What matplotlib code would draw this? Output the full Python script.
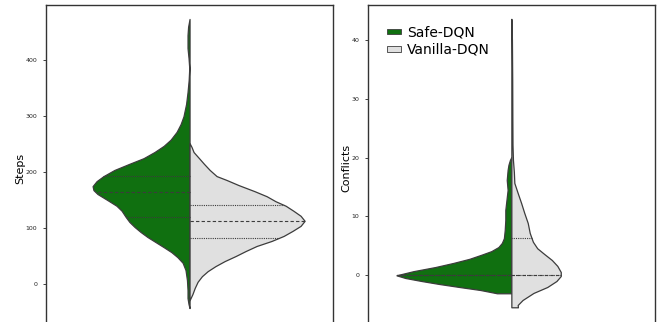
import matplotlib
matplotlib.use('Agg')
import matplotlib.pyplot as plt
from matplotlib.patches import Patch
import numpy as np

# colours (seaborn desaturated green + light grey)
safe_color = '#107010'
vanilla_color = '#e0e0e0'
edge_color = '#3c3c3c'

labels = ['Safe-DQN', 'Vanilla-DQN']

# violin profiles: value -> half width (category units)
# Steps panel
steps_safe_val = [474, 460, 445, 422, 404, 386, 365, 343, 322, 300, 286, 272, 258, 247, 236, 225,
                  215, 204, 193, 184, 175, 168, 161, 150, 140, 131, 120, 111, 102, 93, 84, 75,
                  66, 57, 48, 38, 25, 7, -11, -25, -36, -43]
steps_safe_w = [0.0, 0.005, 0.007, 0.007, 0.0035, 0.001, 0.003, 0.007, 0.012, 0.021, 0.031, 0.045,
                0.066, 0.090, 0.122, 0.160, 0.209, 0.261, 0.299, 0.323, 0.337, 0.334, 0.320, 0.285,
                0.254, 0.236, 0.222, 0.209, 0.191, 0.170, 0.146, 0.118, 0.090, 0.063, 0.042, 0.024,
                0.014, 0.009, 0.007, 0.007, 0.0035, 0.0]
steps_vanilla_val = [252, 245, 236, 225, 215, 204, 193, 186, 177, 166, 157, 148, 140, 131, 122, 113,
                     104, 95, 86, 77, 68, 59, 50, 41, 32, 23, 14, 4, -7, -18, -29]
steps_vanilla_w = [0.0, 0.007, 0.014, 0.033, 0.050, 0.070, 0.094, 0.129, 0.170, 0.226, 0.268, 0.299,
                   0.334, 0.361, 0.386, 0.400, 0.386, 0.358, 0.327, 0.285, 0.233, 0.195, 0.160,
                   0.122, 0.090, 0.063, 0.043, 0.028, 0.018, 0.010, 0.0]
steps_safe_quart = [120.4, 164.0, 192.6]
steps_vanilla_quart = [82.5, 113.2, 141.3]

# Conflicts panel
conf_safe_val = [20.1, 19.6, 18.8, 17.9, 16.2, 14.5, 12.8, 11.1, 9.4, 7.7, 6.3, 5.5, 4.8, 4.1, 3.5,
                 2.8, 2.1, 1.4, 0.7, 0.2, 0.0, -0.46, -0.97, -1.48, -1.99, -2.5, -3.0, -3.06]
conf_safe_w = [0.0, 0.005, 0.010, 0.013, 0.016, 0.013, 0.017, 0.021, 0.021, 0.023, 0.026, 0.033,
               0.045, 0.070, 0.104, 0.146, 0.202, 0.265, 0.341, 0.383, 0.400, 0.369, 0.313, 0.251,
               0.181, 0.108, 0.056, 0.050]
conf_vanilla_val = [43.6, 40, 33.2, 26.4, 22.2, 19.6, 17.6, 15.7, 14.0, 12.3, 10.6, 8.9, 7.2, 5.7,
                    4.6, 3.6, 2.6, 1.6, 0.56, -0.12, -0.97, -1.99, -3.0, -4.2, -5.05, -5.44]
conf_vanilla_w = [0.0, 0.002, 0.003, 0.0035, 0.004, 0.0056, 0.0087, 0.0104, 0.022, 0.034, 0.045,
                  0.057, 0.064, 0.075, 0.090, 0.115, 0.141, 0.160, 0.172, 0.172, 0.157, 0.125,
                  0.077, 0.039, 0.022, 0.023]
conf_safe_quart = [0.0, 0.0, 0.0]
conf_vanilla_quart = [0.0, 0.0, 6.3]

steps_ticks = [0, 100, 200, 300, 400]
conf_ticks = [0, 10, 20, 30, 40]


def half_violin(ax, vals, widths, quarts, color, side):
    vals = np.array(vals, dtype=float)
    widths = np.array(widths, dtype=float)
    ax.fill_betweenx(vals, side * widths, 0, facecolor=color, edgecolor=edge_color,
                     linewidth=0.9, zorder=2)
    # quartile lines, median dashed, the other two dotted
    order = np.argsort(vals)
    for i, q in enumerate(quarts):
        w = np.interp(q, vals[order], widths[order])
        dashes = (3, 2) if i == 1 else (1, 1)
        ax.plot([0, side * w], [q, q], color=edge_color, linewidth=0.8,
                dashes=dashes, zorder=3)


plt.rcParams['font.family'] = 'DejaVu Sans'
fig = plt.figure(figsize=(6.67, 3.22), dpi=100)

W, H = 667.0, 322.0
ax1 = fig.add_axes([45.7 / W, -10 / H, 287.7 / W, 327.3 / H])
ax2 = fig.add_axes([367.7 / W, -10 / H, 287.3 / W, 327.3 / H])

half_violin(ax1, steps_safe_val, steps_safe_w, steps_safe_quart, safe_color, -1)
half_violin(ax1, steps_vanilla_val, steps_vanilla_w, steps_vanilla_quart, vanilla_color, 1)
half_violin(ax2, conf_safe_val, conf_safe_w, conf_safe_quart, safe_color, -1)
half_violin(ax2, conf_vanilla_val, conf_vanilla_w, conf_vanilla_quart, vanilla_color, 1)

ax1.set_ylim(-85.8, 499.5)
ax2.set_ylim(-9.64, 46.0)
ax1.set_yticks(steps_ticks)
ax2.set_yticks(conf_ticks)
ax1.set_ylabel('Steps', fontsize=8.0, labelpad=0.5)
ax2.set_ylabel('Conflicts', fontsize=8.0, labelpad=0)

for ax in (ax1, ax2):
    ax.set_xlim(-0.5, 0.5)
    ax.set_xticks([])
    ax.tick_params(axis='y', labelsize=4.5, length=2.5, width=0.6, pad=3.5, colors='#222222')
    for s in ax.spines.values():
        s.set_color('#333333')
        s.set_linewidth(1.0)

handles = [Patch(facecolor=safe_color, edgecolor=edge_color, linewidth=0.6),
           Patch(facecolor=vanilla_color, edgecolor=edge_color, linewidth=0.6)]
ax2.legend(handles, labels, loc='upper left', bbox_to_anchor=(0.068, 0.936), frameon=False,
           fontsize=10.0, handlelength=0.96, handleheight=0.25, handletextpad=0.45,
           labelspacing=0.22, borderpad=0, borderaxespad=0)

plt.savefig('out.png', dpi=100)
plt.close()
